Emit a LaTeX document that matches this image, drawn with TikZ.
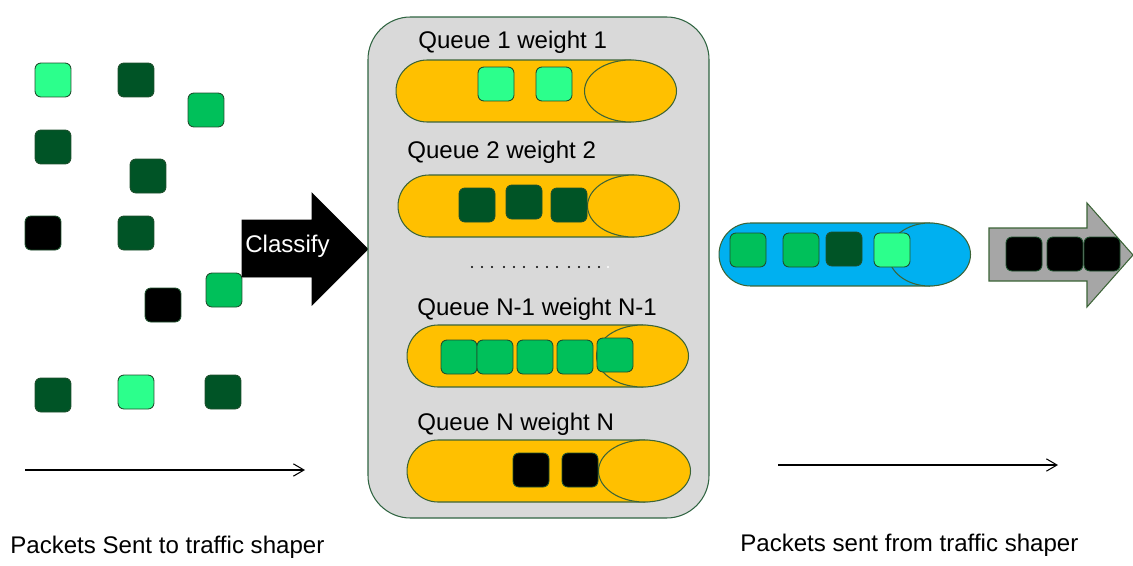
\documentclass[tikz,border=0pt]{standalone}
\usepackage{fontspec}
\setmainfont{Liberation Sans}
\usetikzlibrary{shapes.geometric,shapes.misc,arrows.meta}

\definecolor{pktlight}{RGB}{44,255,140}
\definecolor{pktmid}{RGB}{0,192,90}
\definecolor{pktdark}{RGB}{0,84,38}
\definecolor{pktedge}{RGB}{30,80,45}
\definecolor{pillfill}{RGB}{255,192,0}
\definecolor{pilledge}{RGB}{60,100,55}
\definecolor{pipeblue}{RGB}{0,176,240}
\definecolor{boxgray}{RGB}{217,217,217}
\definecolor{boxedge}{RGB}{47,100,65}
\definecolor{outgray}{RGB}{166,166,166}

\tikzset{
	pkt/.style={draw=pktedge, fill=#1, rounded corners=0.12cm, minimum width=0.72cm, minimum height=0.68cm, inner sep=0pt, line width=0.5pt},
	pill/.style={rounded rectangle, draw=pilledge, fill=pillfill, minimum height=1.24cm, inner sep=0pt, line width=0.6pt},
	pillend/.style={ellipse, draw=pilledge, fill=pillfill, minimum width=1.84cm, minimum height=1.24cm, inner sep=0pt, line width=0.6pt},
	lbl/.style={font=\fontsize{13.7}{16}\selectfont, inner sep=0pt, anchor=base west},
	flow/.style={-{Straight Barb[length=6pt, width=7pt]}, line width=0.6pt},
}

\begin{document}
\begin{tikzpicture}[x=0.02cm, y=-0.02cm]
	\useasboundingbox (0,0) rectangle (1133,565);

%	packets arriving
	\node[pkt=pktlight] (in01) at ( 53, 80) {};
	\node[pkt=pktdark]  (in02) at (136, 80) {};
	\node[pkt=pktmid]   (in03) at (206,110) {};
	\node[pkt=pktdark]  (in04) at ( 53,147) {};
	\node[pkt=pktdark]  (in05) at (148,176) {};
	\node[pkt=black]    (in06) at ( 43,233) {};
	\node[pkt=pktdark]  (in07) at (136,233) {};
	\node[pkt=black]    (in08) at (163,305) {};
	\node[pkt=pktmid]   (in09) at (224,290) {};
	\node[pkt=pktdark]  (in10) at ( 53,395) {};
	\node[pkt=pktlight] (in11) at (136,392) {};
	\node[pkt=pktdark]  (in12) at (223,392) {};

%	classify arrow
	\filldraw[black] (242,220) -- (312,220) -- (312,193) -- (368,249) -- (312,305) -- (312,277) -- (242,277) -- cycle;
	\node[lbl, white] (cls) at (245,252) {Classify};

%	queues
	\filldraw[fill=boxgray, draw=boxedge, line width=0.6pt, rounded corners=0.85cm] (368,17) rectangle (709,518);

	\node[lbl] (t1) at (418, 48) {Queue 1 weight 1};
	\node[pill, minimum width=5.3cm] (q1) at (528.5,91) {};
	\node[pillend] (q1e) at ([xshift=-0.62cm]q1.east) {};
	\node[pkt=pktlight] (q1a) at (496,84) {};
	\node[pkt=pktlight] (q1b) at (554,84) {};

	\node[lbl] (t2) at (407,158) {Queue 2 weight 2};
	\node[pill, minimum width=5.32cm] (q2) at (531,206) {};
	\node[pillend] (q2e) at ([xshift=-0.62cm]q2.east) {};
	\node[pkt=pktdark] (q2a) at (477,205) {};
	\node[pkt=pktdark] (q2b) at (524,202) {};
	\node[pkt=pktdark] (q2c) at (569,205) {};

	\foreach \x in {472,482,492,504,514,524,537,547,557,569,579,589,599}
		\fill (\x,267) circle[radius=0.65pt];
	\fill[white] (608,267) circle[radius=0.65pt];

	\node[lbl] (t3) at (417,315) {Queue N-1 weight N-1};
	\node[pill, minimum width=5.32cm] (q3) at (540,356) {};
	\node[pillend] (q3e) at ([xshift=-0.62cm]q3.east) {};
	\node[pkt=pktmid] (q3a) at (459,357) {};
	\node[pkt=pktmid] (q3b) at (495,357) {};
	\node[pkt=pktmid] (q3c) at (535,357) {};
	\node[pkt=pktmid] (q3d) at (575,357) {};
	\node[pkt=pktmid] (q3e) at (615,355) {};

	\node[lbl] (t4) at (417,430) {Queue N weight N};
	\node[pill, minimum width=5.36cm] (q4) at (541,471) {};
	\node[pillend] (q4e) at ([xshift=-0.62cm]q4.east) {};
	\node[pkt=black] (q4a) at (531,470) {};
	\node[pkt=black] (q4b) at (580,470) {};

%	shaped output
	\node[pill, fill=pipeblue, minimum width=4.83cm, minimum height=1.26cm] (out) at (839.75,254.5) {};
	\node[pillend, fill=pipeblue, minimum width=1.64cm, minimum height=1.26cm] (oute) at ([xshift=-0.63cm]out.east) {};
	\node[pkt=pktmid]   (o1) at (748,250) {};
	\node[pkt=pktmid]   (o2) at (801,250) {};
	\node[pkt=pktdark]  (o3) at (844,249) {};
	\node[pkt=pktlight] (o4) at (892,250) {};

	\filldraw[fill=outgray, draw=pilledge, line width=0.6pt] (989,228) -- (1087,228) -- (1087,203) -- (1133,255) -- (1087,307) -- (1087,281) -- (989,281) -- cycle;
	\node[pkt=black] (s1) at (1024,254) {};
	\node[pkt=black] (s2) at (1065,254) {};
	\node[pkt=black] (s3) at (1102,254) {};

%	direction of flow
	\coordinate (a0) at ( 25,470);
	\coordinate (a1) at (305,470);
	\coordinate (b0) at (778,465);
	\coordinate (b1) at (1058,465);
	\draw[flow] (a0) -- (a1);
	\draw[flow] (b0) -- (b1);

	\node[lbl] (lin)  at ( 10,553) {Packets Sent to traffic shaper};
	\node[lbl] (lout) at (740,551) {Packets sent from traffic shaper};
\end{tikzpicture}
\end{document}
